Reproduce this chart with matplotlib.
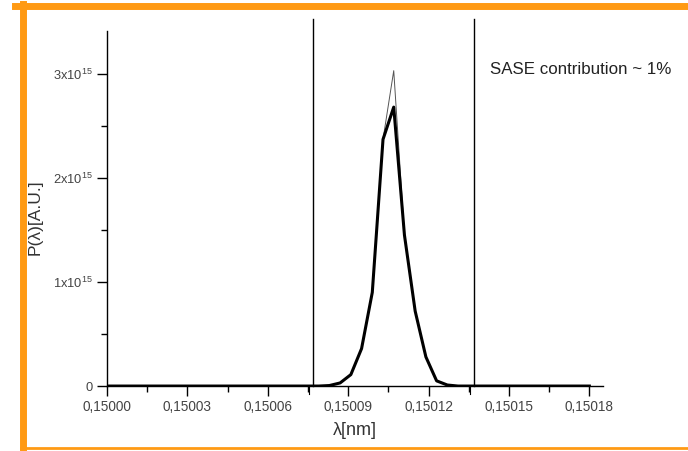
import numpy as np
import matplotlib
matplotlib.use("Agg")
from matplotlib import pyplot as plt
from matplotlib.lines import Line2D

plt.rcParams['font.family'] = ['Liberation Sans', 'DejaVu Sans']
plt.rcParams['mathtext.fontset'] = 'custom'
plt.rcParams['mathtext.rm'] = 'Liberation Sans'
plt.rcParams['mathtext.it'] = 'Liberation Sans:italic'

# wavelength grid [nm] and power spectra [x1e15 A.U.]
wavelength = [0.15000, 0.15006, 0.150079, 0.150083, 0.150087, 0.150091, 0.150095,
              0.150099, 0.150103, 0.150107, 0.150111, 0.150115, 0.150119,
              0.150123, 0.150127, 0.150131, 0.15018]
power_total = [0.0, 0.0, 0.0, 0.005, 0.03, 0.11, 0.36, 0.90, 2.37, 2.68, 1.45,
               0.72, 0.28, 0.05, 0.01, 0.0, 0.0]
power_seeded = [0.0, 0.0, 0.0, 0.005, 0.03, 0.11, 0.36, 0.90, 2.37, 3.03, 1.45,
                0.72, 0.28, 0.05, 0.01, 0.0, 0.0]

# window limits (vertical lines)
window = [0.1500767, 0.1501368]

xticks = [0.15000, 0.15003, 0.15006, 0.15009, 0.15012, 0.15015, 0.15018]
xticklabels = ["0,15000", "0,15003", "0,15006", "0,15009", "0,15012", "0,15015", "0,15018"]
yticks = [0, 1, 2, 3]
yticklabels = ["0", "1x10$^{15}$", "2x10$^{15}$", "3x10$^{15}$"]

fig = plt.figure(figsize=(6.88, 4.51), dpi=100)
ax = fig.add_axes([0.1555, 0.144, 0.721, 0.787])

ax.plot(wavelength, power_seeded, color="#555555", lw=0.7)
ax.plot(wavelength, power_total, color="black", lw=2.2)

for w in window:
    ax.axvline(w, ymin=0, ymax=1.035, color="black", lw=1.0, clip_on=False)
    # axis break mark
    ax.axvline(w - 0.0000015, ymin=-0.022, ymax=0, color="black", lw=0.8, clip_on=False)

ax.set_xlim(0.15000, 0.1501851)
ax.set_ylim(0, 3.41)

ax.set_xticks(xticks)
ax.set_xticklabels(xticklabels)
ax.set_xticks(np.array(xticks[:-1]) + 0.000015, minor=True)
ax.set_yticks(yticks)
ax.set_yticklabels(yticklabels)
ax.set_yticks([0.5, 1.5, 2.5], minor=True)

for s in ["top", "right"]:
    ax.spines[s].set_visible(False)
for s in ["left", "bottom"]:
    ax.spines[s].set_linewidth(1.0)

ax.tick_params(axis="both", which="major", direction="out", length=7, width=1.0,
               labelsize=9.8, labelcolor="#444444", pad=3)
ax.tick_params(axis="y", which="major", labelsize=9.3)
ax.tick_params(axis="both", which="minor", direction="out", length=4, width=1.0)

ax.set_xlabel("λ[nm]", fontsize=13, color="#333333", labelpad=6)
ax.set_ylabel("P(λ)[A.U.]", fontsize=12.5, color="#333333")
ax.yaxis.set_label_coords(-0.13, 0.475)

ax.text(0.1501431, 3.04, "SASE contribution ~ 1%", fontsize=12.2, color="#222222",
        ha="left", va="center")

# orange frame
orange = "#FF9A14"
fig.add_artist(Line2D([0.022, 1.0], [0.986, 0.986], color=orange, lw=5, transform=fig.transFigure))
fig.add_artist(Line2D([0.0335, 0.0335], [0.007, 0.992], color=orange, lw=5, transform=fig.transFigure))
fig.add_artist(Line2D([0.03, 1.0], [0.007, 0.007], color=orange, lw=2, transform=fig.transFigure))

fig.savefig("out.png", dpi=100)
